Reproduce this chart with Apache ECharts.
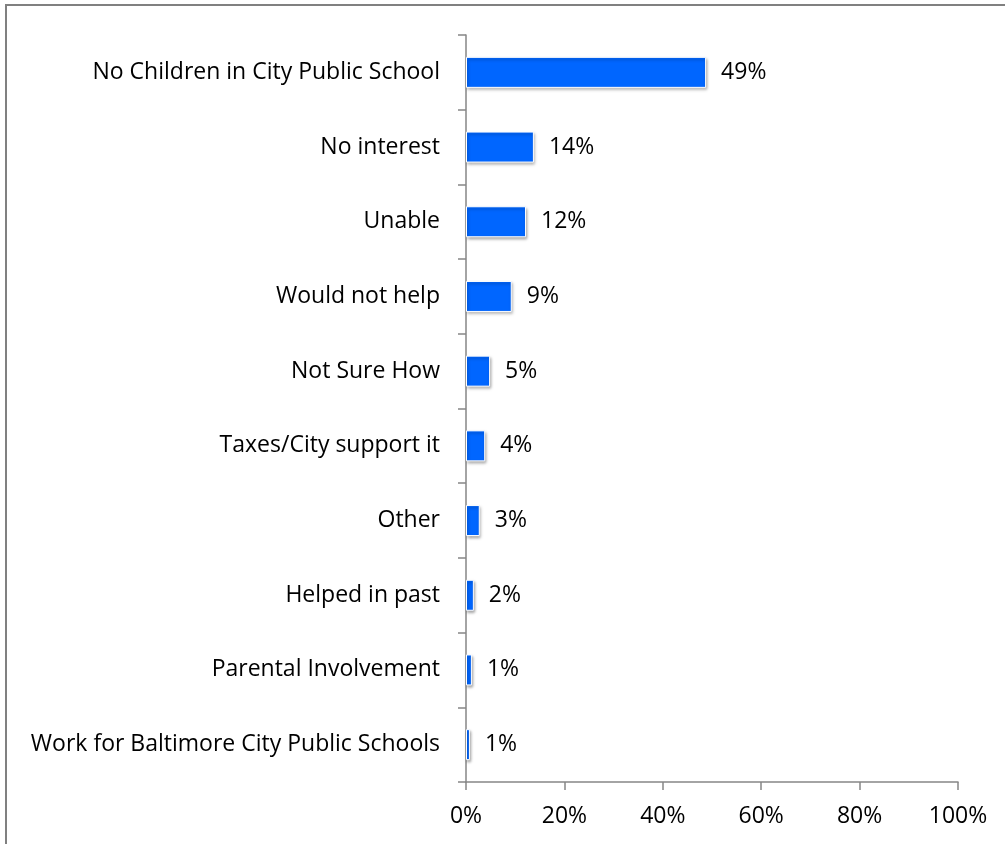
<!DOCTYPE html>
<html><head><meta charset="utf-8">
<script src="https://cdn.jsdelivr.net/npm/echarts@6/dist/echarts.min.js"></script>
<style>html,body{margin:0;padding:0;background:#fff}#c{width:1005px;height:844px}</style>
</head><body><div id="c"></div>
<script>
const categories = ["No Children in City Public School","No interest","Unable","Would not help","Not Sure How","Taxes/City support it","Other","Helped in past","Parental Involvement","Work for Baltimore City Public Schools"];
const values = [48.8, 13.8, 12.2, 9.3, 4.9, 3.9, 2.8, 1.6, 1.2, 0.8];
const labels = ["49%","14%","12%","9%","5%","4%","3%","2%","1%","1%"];
const xTicks = [0, 20, 40, 60, 80, 100];

const font = "'Open Sans', Lato, sans-serif";
const fs = 23;
const chart = echarts.init(document.getElementById('c'));
chart.setOption({
  animation: false,
  grid: {left: 466, right: 47, top: 35, bottom: 62},
  graphic: [{type:'rect', shape:{x:6, y:5, width:1200, height:1200}, style:{fill:'none', stroke:'#808080', lineWidth:2}, silent:true}],
  xAxis: {
    type: 'value', min: 0, max: 100, interval: 20,
    axisLine: {show: true, lineStyle: {color: '#868686', width: 1.5}},
    axisTick: {show: true, length: 8, lineStyle: {color: '#868686', width: 1.5}},
    splitLine: {show: false},
    axisLabel: {formatter: v => v + '%', fontFamily: font, fontSize: fs, color: '#000', margin: 23}
  },
  yAxis: {
    type: 'category', data: categories, inverse: true,
    axisLine: {show: true, lineStyle: {color: '#868686', width: 1.5}},
    axisTick: {show: true, length: 8, lineStyle: {color: '#868686', width: 1.5}},
    axisLabel: {fontFamily: font, fontSize: fs, color: '#000', margin: 26}
  },
  series: [{
    type: 'bar', data: values, barWidth: 31,
    itemStyle: {color: '#0066ff', borderColor: '#fff', borderWidth: 1, shadowColor: 'rgba(0,0,0,0.35)', shadowBlur: 3, shadowOffsetY: 2, shadowOffsetX: 1},
    label: {show: true, position: 'right', distance: 15, formatter: p => labels[p.dataIndex], fontFamily: font, fontSize: fs, color: '#000'}
  }]
});
</script></body></html>
